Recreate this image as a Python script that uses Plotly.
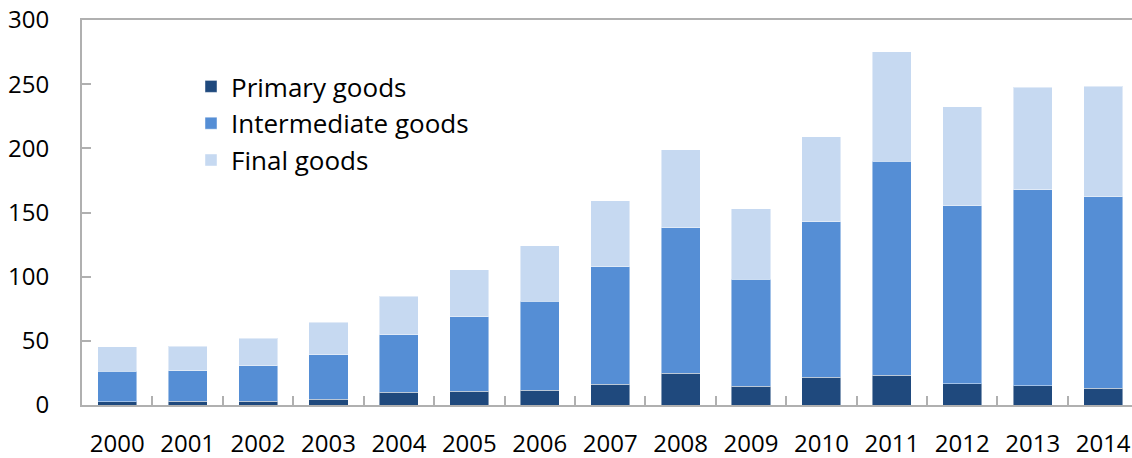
import plotly.graph_objects as go

years = [str(y) for y in range(2000, 2015)]
primary = [2.6, 2.8, 2.8, 4.4, 9.8, 10.6, 11.4, 16.1, 24.6, 14.5, 21.5, 23.1, 16.6, 15.0, 12.9]
intermediate = [23.6, 23.9, 27.8, 34.8, 45.0, 58.3, 69.4, 91.5, 113.7, 83.3, 121.4, 166.9, 138.8, 152.7, 149.5]
final = [19.3, 19.0, 21.6, 25.2, 29.9, 36.4, 43.4, 51.7, 60.5, 55.3, 66.3, 85.3, 77.2, 80.0, 85.8]

series = [
    ("Primary goods", primary, "#1F497D"),
    ("Intermediate goods", intermediate, "#558ED5"),
    ("Final goods", final, "#C6D9F1"),
]

FONT = "Open Sans, Noto Sans, sans-serif"
AX = "#B0B0B0"

fig = go.Figure()
for name, vals, col in series:
    fig.add_trace(go.Bar(
        x=years, y=vals, name=name, legendgroup=name,
        marker=dict(color=col, line=dict(color="rgba(255,255,255,0.45)", width=1)),
        width=0.555,
    ))

fig.update_layout(
    width=1132, height=458,
    barmode="stack",
    paper_bgcolor="white", plot_bgcolor="white",
    margin=dict(l=82, r=0, t=20, b=53, autoexpand=False),
    font=dict(family=FONT, size=24, color="#000000"),
    showlegend=True,
    legend=dict(
        x=(191 - 82) / 1050, y=1 - (63 - 20) / 385, xanchor="left", yanchor="top",
        traceorder="grouped", tracegroupgap=0,
        font=dict(family=FONT, size=26, color="#000000"),
        bgcolor="rgba(0,0,0,0)",
    ),
    xaxis=dict(
        type="category", range=[-0.5, 14.41], automargin=False,
        showline=True, linecolor=AX, linewidth=2, mirror=True,
        ticks="inside", tickson="boundaries", ticklen=9, tickcolor=AX, tickwidth=2,
        showgrid=False, zeroline=False,
        ticklabelstandoff=16, ticklabeloverflow="allow",
        tickfont=dict(family=FONT, size=24, color="#000000"),
    ),
    yaxis=dict(
        range=[0, 300], tickvals=[0, 50, 100, 150, 200, 250, 300], automargin=False,
        showline=True, linecolor=AX, linewidth=2,
        ticks="inside", ticklen=9, tickcolor=AX, tickwidth=2,
        showgrid=False, zeroline=False,
        ticklabelstandoff=26, ticklabeloverflow="allow",
        tickfont=dict(family=FONT, size=24, color="#000000"),
    ),
)

fig.write_html(
    "out.html",
    config={"displayModeBar": False},
    post_script="document.body.style.margin='0';document.body.style.overflow='hidden';",
)
